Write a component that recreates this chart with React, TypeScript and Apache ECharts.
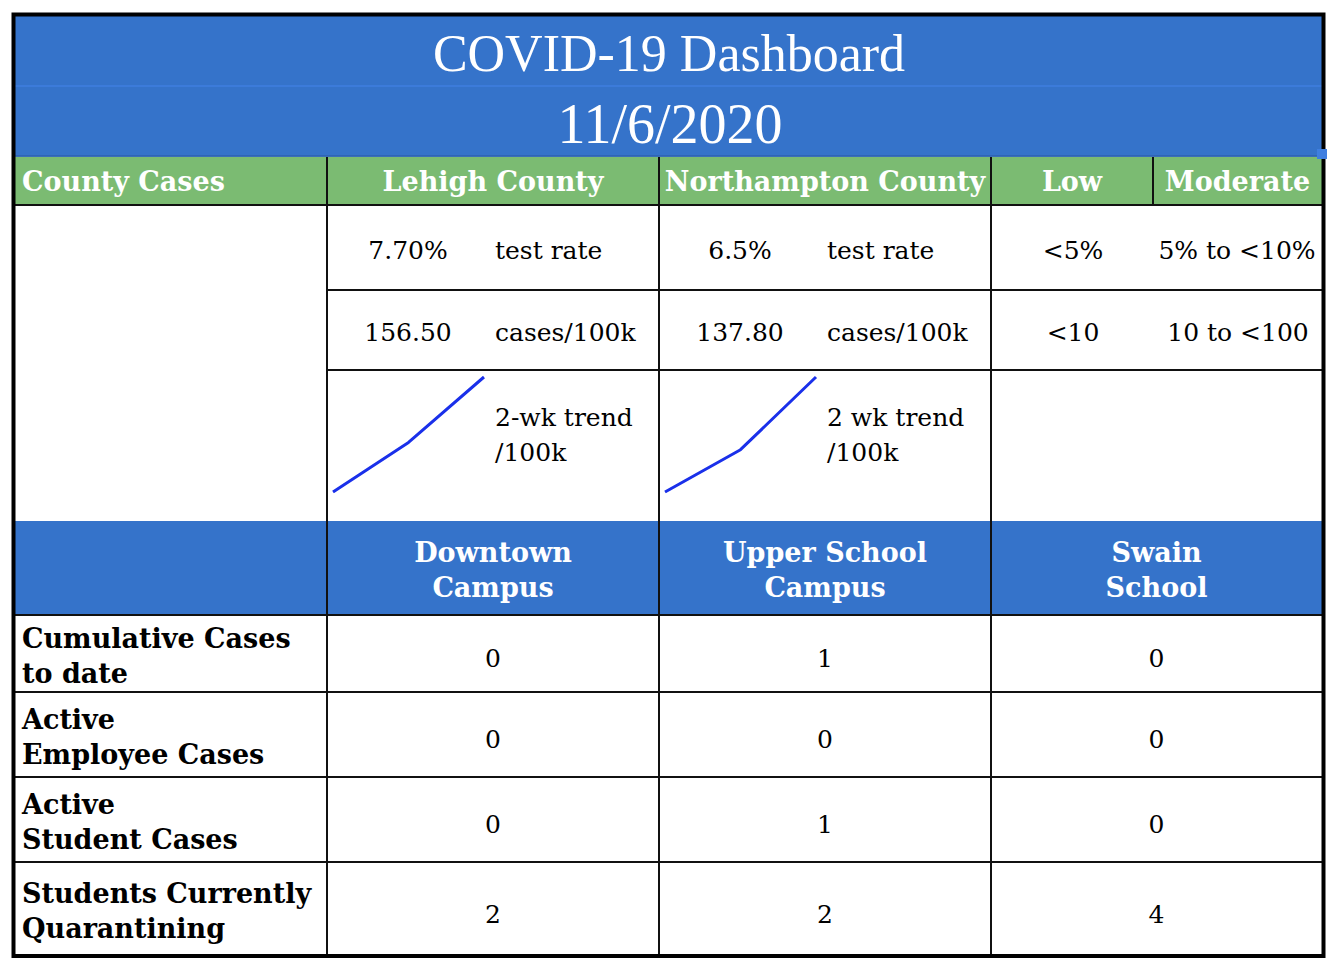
import React, { useEffect, useRef } from "react";
import * as echarts from "echarts";

const title = "COVID-19 Dashboard";
const reportDate = "11/6/2020";
const countyHeaders = ["County Cases", "Lehigh County", "Northampton County", "Low", "Moderate"];
const countyTestRates = ["7.70%", "6.5%"];
const countyCasesPer100k = ["156.50", "137.80"];
const testRateLabel = "test rate";
const casesLabel = "cases/100k";
const trendLabels = ["2-wk trend\n/100k", "2 wk trend\n/100k"];
const lowThresholds = ["<5%", "<10"];
const moderateThresholds = ["5% to <10%", "10 to <100"];
const trendWeeks = ["Oct 23", "Oct 30", "Nov 6"];
const lehighTrend = [92, 120, 157];
const northamptonTrend = [78, 100, 137.8];
const campuses = ["Downtown\nCampus", "Upper School\nCampus", "Swain\nSchool"];
const metricLabels = [
  "Cumulative Cases\nto date",
  "Active\nEmployee Cases",
  "Active\nStudent Cases",
  "Students Currently\nQuarantining",
];
const cumulativeCases = [0, 1, 0];
const activeEmployeeCases = [0, 0, 0];
const activeStudentCases = [0, 1, 0];
const studentsQuarantining = [2, 2, 4];

const BLUE = "#3573ca";
const GREEN = "#7bbb72";
const SERIF = "'DejaVu Serif', serif";
const TITLE_SERIF = "'Liberation Serif', serif";

function txt(text: string, x: number, y: number, opts: any = {}) {
  const align = opts.align || "center";
  return {
    type: "text",
    x,
    y,
    z: 20,
    style: {
      text,
      fill: opts.fill || "#000",
      fontSize: opts.size || 25,
      fontFamily: opts.family || SERIF,
      fontWeight: opts.weight || "normal",
      textAlign: align,
      align,
      textVerticalAlign: "middle",
      verticalAlign: "middle",
      lineHeight: opts.lineHeight || 35,
    },
  };
}

function hline(x1: number, x2: number, y: number, w = 2, c = "#111") {
  return { type: "line", z: 15, shape: { x1, y1: y, x2, y2: y }, style: { stroke: c, lineWidth: w } };
}
function vline(x: number, y1: number, y2: number, w = 2, c = "#111") {
  return { type: "line", z: 15, shape: { x1: x, y1, x2: x, y2 }, style: { stroke: c, lineWidth: w } };
}
function rect(x: number, y: number, width: number, height: number, fill: string, extra: any = {}) {
  return { type: "rect", z: 1, shape: { x, y, width, height }, style: { fill, ...extra } };
}

export default function App() {
  const ref = useRef<HTMLDivElement>(null);
  useEffect(() => {
    document.body.style.margin = "0";
    if (!ref.current) return;
    const chart = echarts.init(ref.current, undefined, { renderer: "svg" });

    const c = [14, 327, 659, 991, 1153, 1322];
    const r = [157, 205, 290, 370, 521, 615, 692, 777, 862, 955];
    const colCenters = [(c[1] + c[2]) / 2, (c[2] + c[3]) / 2, (c[3] + c[5]) / 2];
    const els: any[] = [];

    // backgrounds
    els.push(rect(0, 0, 1336, 970, "#fff"));
    els.push(rect(14, 15, 1309, 72, BLUE));
    els.push(rect(13, 86, 1310, 70, BLUE, { stroke: "#3f7fe0", lineWidth: 1.5 }));
    els.push(hline(14, 1322, 156, 1.5, "#2b5ea8"));
    els.push(rect(c[0], r[0], c[5] - c[0], r[1] - r[0], GREEN));
    els.push(rect(c[0], r[4], c[5] - c[0], r[5] - r[4], BLUE));

    // grid lines
    els.push(hline(c[0], c[5], r[1]));
    els.push(hline(c[1], c[5], r[2]));
    els.push(hline(c[1], c[5], r[3]));
    for (let i = 5; i <= 8; i++) els.push(hline(c[0], c[5], r[i]));
    els.push(vline(c[1], r[0], r[9]));
    els.push(vline(c[2], r[0], r[9]));
    els.push(vline(c[3], r[0], r[9]));
    els.push(vline(c[4], r[0], r[1]));

    // outer border
    els.push({
      type: "rect",
      z: 16,
      shape: { x: 13.5, y: 14.5, width: 1310, height: 941.5 },
      style: { fill: "none", stroke: "#000", lineWidth: 4 },
    });
    const handle: any = rect(1317, 149, 10, 10, "#3f7fe0");
    handle.z = 30;
    els.push(handle);

    // titles
    els.push(txt(title, 669, 53, { size: 52, family: TITLE_SERIF, fill: "#fff" }));
    els.push(txt(reportDate, 670, 124, { size: 56, family: TITLE_SERIF, fill: "#fff" }));

    // county header row
    const hy = 181;
    els.push(txt(countyHeaders[0], 22, hy, { align: "left", weight: "bold", size: 27, fill: "#fff" }));
    els.push(txt(countyHeaders[1], (c[1] + c[2]) / 2, hy, { weight: "bold", size: 27, fill: "#fff" }));
    els.push(txt(countyHeaders[2], (c[2] + c[3]) / 2, hy, { weight: "bold", size: 27, fill: "#fff" }));
    els.push(txt(countyHeaders[3], (c[3] + c[4]) / 2, hy, { weight: "bold", size: 27, fill: "#fff" }));
    els.push(txt(countyHeaders[4], (c[4] + c[5]) / 2, hy, { weight: "bold", size: 27, fill: "#fff" }));

    // county rows
    const numX = [408, 740];
    const labX = [495, 827];
    for (let i = 0; i < 2; i++) {
      els.push(txt(countyTestRates[i], numX[i], 250));
      els.push(txt(testRateLabel, labX[i], 250, { align: "left" }));
      els.push(txt(countyCasesPer100k[i], numX[i], 332));
      els.push(txt(casesLabel, labX[i], 332, { align: "left" }));
      els.push(txt(trendLabels[i], labX[i], 435, { align: "left" }));
    }
    els.push(txt(lowThresholds[0], 1073, 250));
    els.push(txt(moderateThresholds[0], 1237, 250));
    els.push(txt(lowThresholds[1], 1073, 332));
    els.push(txt(moderateThresholds[1], 1238, 332));

    // campus header
    campuses.forEach((name, i) => {
      els.push(txt(name, colCenters[i], 570, { weight: "bold", size: 27, fill: "#fff" }));
    });

    // metric rows
    const rowData = [cumulativeCases, activeEmployeeCases, activeStudentCases, studentsQuarantining];
    const labelY = [655.5, 736.5, 821.5, 910.5];
    const valY = [658, 739, 824, 914];
    metricLabels.forEach((lab, i) => {
      els.push(txt(lab, 22, labelY[i], { align: "left", weight: "bold", size: 27 }));
      rowData[i].forEach((v, j) => {
        els.push(txt(String(v), colCenters[j], valY[i]));
      });
    });

    const lineStyle = { color: "#1a30ea", width: 3 };
    chart.setOption({
      animation: false,
      graphic: { elements: els },
      grid: [
        { left: 333, top: 377, width: 151, height: 115 },
        { left: 665, top: 377, width: 151, height: 115 },
      ],
      xAxis: [
        { type: "category", gridIndex: 0, data: trendWeeks, boundaryGap: false, show: false },
        { type: "category", gridIndex: 1, data: trendWeeks, boundaryGap: false, show: false },
      ],
      yAxis: [
        { type: "value", gridIndex: 0, min: 92, max: 157, show: false },
        { type: "value", gridIndex: 1, min: 78, max: 137.8, show: false },
      ],
      series: [
        { type: "line", xAxisIndex: 0, yAxisIndex: 0, data: lehighTrend, symbol: "none", lineStyle, z: 30 },
        { type: "line", xAxisIndex: 1, yAxisIndex: 1, data: northamptonTrend, symbol: "none", lineStyle, z: 30 },
      ],
    });
    return () => chart.dispose();
  }, []);
  return <div ref={ref} style={{ width: 1336, height: 970 }} />;
}
